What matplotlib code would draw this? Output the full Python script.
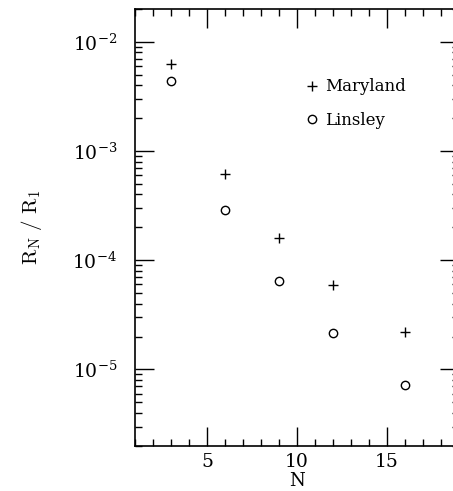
import numpy as np
import matplotlib
matplotlib.use('Agg')
import matplotlib.pyplot as plt
from matplotlib.ticker import LogLocator, MultipleLocator, NullFormatter

# data
n_vals = [3, 6, 9, 12, 16]
maryland = [6.3e-3, 6.1e-4, 1.6e-4, 5.9e-5, 2.2e-5]
linsley = [4.4e-3, 2.9e-4, 6.4e-5, 2.15e-5, 7.2e-6]

plt.rcParams['font.family'] = 'DejaVu Serif'
plt.rcParams['mathtext.fontset'] = 'cm'

fig = plt.figure(figsize=(4.53, 4.91), dpi=100)
ax = fig.add_axes([0.298, 0.092, 0.715, 0.890])

ax.plot(n_vals, maryland, linestyle='none', marker='+', ms=7, mew=1.0,
        color='black', label='Maryland')
ax.plot(n_vals, linsley, linestyle='none', marker='o', ms=6, mew=1.0,
        mfc='none', color='black', label='Linsley')

ax.set_yscale('log')
ax.set_xlim(1, 19)
ax.set_ylim(2e-6, 2e-2)

ax.xaxis.set_major_locator(MultipleLocator(5))
ax.xaxis.set_minor_locator(MultipleLocator(1))
ax.yaxis.set_major_locator(LogLocator(base=10, numticks=10))
ax.yaxis.set_minor_locator(LogLocator(base=10, subs=np.arange(2, 10), numticks=10))
ax.yaxis.set_minor_formatter(NullFormatter())

ax.tick_params(which='both', direction='in', top=True, right=True,
               labelsize=13.5, width=1)
ax.tick_params(which='major', length=14)
ax.tick_params(which='minor', length=5)
ax.tick_params(axis='y', which='major', pad=13)
ax.tick_params(axis='x', which='major', pad=5)
for s in ax.spines.values():
    s.set_linewidth(1.2)

ax.set_xlabel('N', fontsize=13, labelpad=1)
ax.set_ylabel(r'$\mathrm{R_N\ /\ R_1}$', fontsize=15, labelpad=20)

ax.legend(loc='upper left', bbox_to_anchor=(0.511, 0.856), frameon=False,
          handlelength=0.6, handletextpad=0.5, labelspacing=1.0,
          fontsize=12, borderaxespad=0)

fig.savefig('out.png', dpi=100)
